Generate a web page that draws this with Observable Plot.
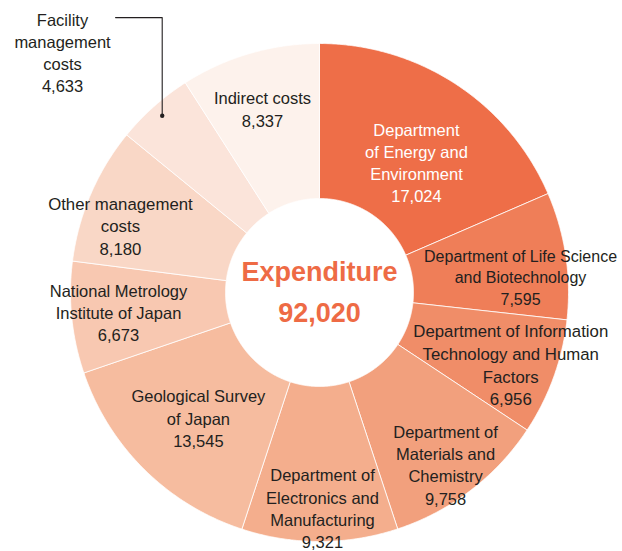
<!DOCTYPE html>
<html>
<head>
<meta charset="utf-8">
<script src="https://cdn.jsdelivr.net/npm/d3@7"></script>
<script src="https://cdn.jsdelivr.net/npm/@observablehq/plot@0.6"></script>
<style>
  html, body { margin: 0; padding: 0; background: #fff; }
  #chart { width: 622px; height: 551px; }
</style>
</head>
<body>
<div id="chart"></div>
<script>
// ---- data ----
const categories = [
  "Department\nof Energy and\nEnvironment",
  "Department of Life Science\nand Biotechnology",
  "Department of Information\nTechnology and Human\nFactors",
  "Department of\nMaterials and\nChemistry",
  "Department of\nElectronics and\nManufacturing",
  "Geological Survey\nof Japan",
  "National Metrology\nInstitute of Japan",
  "Other management\ncosts",
  "Facility\nmanagement\ncosts",
  "Indirect costs"
];
const values = [17024, 7595, 6956, 9758, 9321, 13545, 6673, 8180, 4633, 8337];
const centerTitle = "Expenditure";
const totalValue = 92020;

// ---- styles / layout ----
const palette = ["#ee6e48", "#ef7e58", "#f08d68", "#f2a07d", "#f4ae8d",
                 "#f6bc9f", "#f8c8b1", "#f9d7c6", "#fbe4da", "#fdf2ec"];
const labelColors = ["#ffffff", "#231f20", "#231f20", "#231f20", "#231f20",
                     "#231f20", "#231f20", "#231f20", "#231f20", "#231f20"];
// [radius as fraction of outer radius, angle in degrees clockwise from north]; null = outside label
const labelLayout = [[0.653, 36.6], [0.81, 85.4], [0.82, 110.5], [0.855, 143.7], [0.864, 179.2],
                     [0.699, 224.1], [0.811, 264.5], [0.844, 288.7], null, [0.774, 342.8]];
const labelSizes = [16.5, 16, 16.8, 16.5, 16.5, 16.5, 16.5, 16.8, 16.5, 16.5];
const outsideLabel = {index: 8, x: -1.032, y: -0.966, elbowY: -1.104, endX: -0.819, dotR: 0.95};
const innerR = 94 / 249;
const fmt = d3.format(",");

// ---- geometry from the data ----
const arcs = d3.pie().sort(null).value(d => d)(values);
const ring = [];
arcs.forEach((a, i) => {
  const n = Math.max(4, Math.ceil((a.endAngle - a.startAngle) / 0.005));
  const pts = [];
  for (let k = 0; k <= n; k++) {
    const t = a.startAngle + (a.endAngle - a.startAngle) * k / n;
    pts.push({x: Math.sin(t), y: -Math.cos(t)});
  }
  for (let k = n; k >= 0; k--) {
    const t = a.startAngle + (a.endAngle - a.startAngle) * k / n;
    pts.push({x: innerR * Math.sin(t), y: -innerR * Math.cos(t)});
  }
  pts.push(pts[0]);
  pts.forEach(p => ring.push({...p, i, color: palette[i]}));
});

const labels = [];
categories.forEach((c, i) => {
  const L = labelLayout[i];
  if (!L) return;
  const t = L[1] * Math.PI / 180;
  labels.push({x: L[0] * Math.sin(t), y: -L[0] * Math.cos(t),
               text: c + "\n" + fmt(values[i]), fill: labelColors[i], fs: labelSizes[i]});
});

const oa = arcs[outsideLabel.index];
const mid = (oa.startAngle + oa.endAngle) / 2;
const dotPt = {x: outsideLabel.dotR * Math.sin(mid), y: -outsideLabel.dotR * Math.cos(mid)};
const leader = [dotPt, {x: dotPt.x, y: outsideLabel.elbowY}, {x: outsideLabel.endX, y: outsideLabel.elbowY}];
const outside = [{x: outsideLabel.x, y: outsideLabel.y,
                  text: categories[outsideLabel.index] + "\n" + fmt(values[outsideLabel.index])}];
const center = [{x: 0, y: -0.08, text: centerTitle}, {x: 0, y: 0.084, text: fmt(totalValue)}];

const chart = Plot.plot({
  width: 622,
  height: 551,
  margin: 0,
  x: {domain: [-1, 1], range: [70, 568], axis: null},
  y: {domain: [-1, 1], range: [43, 541], axis: null},
  color: {type: "identity"},
  style: {fontFamily: "'Liberation Sans', Arial, Helvetica, sans-serif", background: "#fff"},
  marks: [
    Plot.line(ring, {x: "x", y: "y", z: "i", fill: "color", stroke: "#ffffff",
                     strokeWidth: 0.8, curve: "linear"}),
    Plot.text(labels, {x: "x", y: "y", text: "text", fill: "fill", fontSize: "fs",
                       lineHeight: 1.35, textAnchor: "middle"}),
    Plot.line(leader, {x: "x", y: "y", stroke: "#231f20", strokeWidth: 1.1}),
    Plot.dot([dotPt], {x: "x", y: "y", r: 2.2, fill: "#231f20"}),
    Plot.text(outside, {x: "x", y: "y", text: "text", fill: "#231f20", fontSize: 16.5,
                        lineHeight: 1.35, textAnchor: "middle"}),
    Plot.text(center, {x: "x", y: "y", text: "text", fill: "#ee6b45", fontSize: 27,
                       fontWeight: "bold", textAnchor: "middle"})
  ]
});
document.getElementById("chart").appendChild(chart);
</script>
</body>
</html>
